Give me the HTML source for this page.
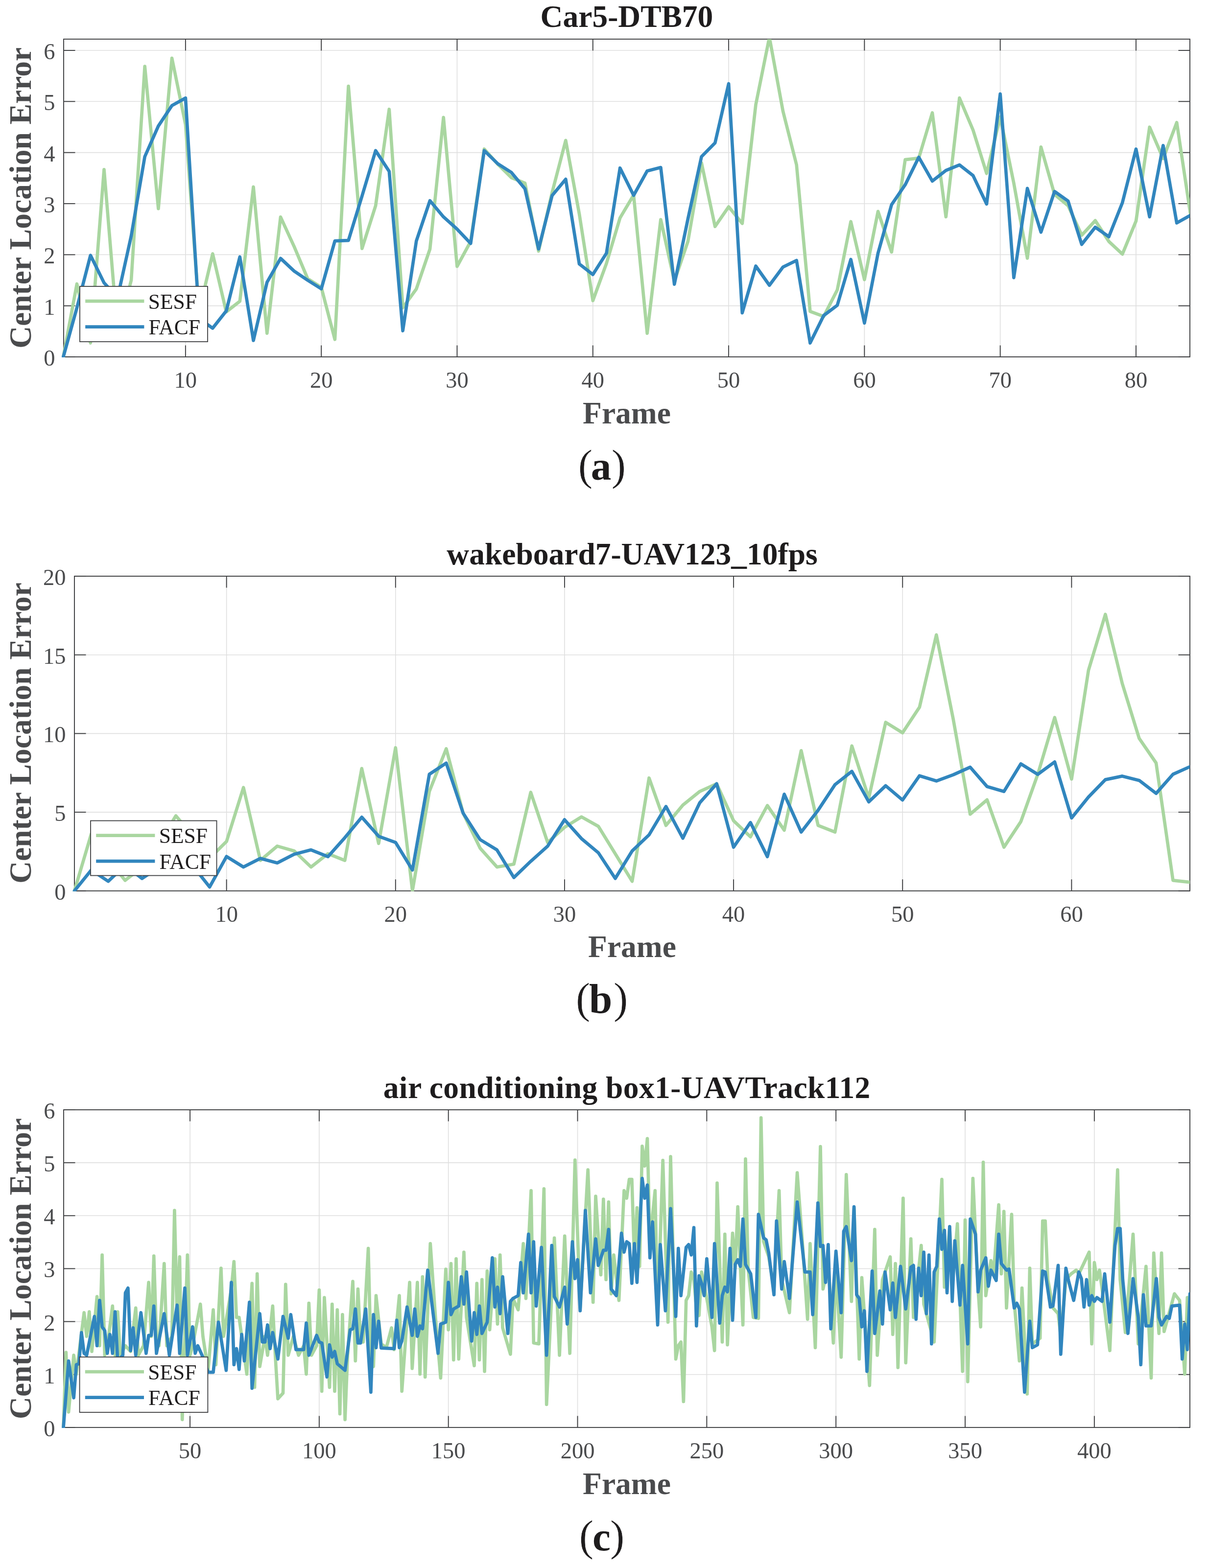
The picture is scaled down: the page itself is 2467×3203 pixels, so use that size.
<!DOCTYPE html>
<html><head><meta charset="utf-8"><title>Center Location Error plots</title>
<style>html,body{margin:0;padding:0;background:#fff;overflow:hidden;} svg{display:block;}</style></head>
<body><svg width="2467" height="3203" viewBox="0 0 2467 3203">
<rect width="2467" height="3203" fill="#fff"/>
<g><line x1="378.87" y1="79.9" x2="378.87" y2="729" stroke="#dfdfdf" stroke-width="1.6"/>
<line x1="656.17" y1="79.9" x2="656.17" y2="729" stroke="#dfdfdf" stroke-width="1.6"/>
<line x1="933.47" y1="79.9" x2="933.47" y2="729" stroke="#dfdfdf" stroke-width="1.6"/>
<line x1="1210.77" y1="79.9" x2="1210.77" y2="729" stroke="#dfdfdf" stroke-width="1.6"/>
<line x1="1488.08" y1="79.9" x2="1488.08" y2="729" stroke="#dfdfdf" stroke-width="1.6"/>
<line x1="1765.38" y1="79.9" x2="1765.38" y2="729" stroke="#dfdfdf" stroke-width="1.6"/>
<line x1="2042.68" y1="79.9" x2="2042.68" y2="729" stroke="#dfdfdf" stroke-width="1.6"/>
<line x1="2319.98" y1="79.9" x2="2319.98" y2="729" stroke="#dfdfdf" stroke-width="1.6"/>
<line x1="130" y1="624.66" x2="2430" y2="624.66" stroke="#dfdfdf" stroke-width="1.6"/>
<line x1="130" y1="520.32" x2="2430" y2="520.32" stroke="#dfdfdf" stroke-width="1.6"/>
<line x1="130" y1="415.98" x2="2430" y2="415.98" stroke="#dfdfdf" stroke-width="1.6"/>
<line x1="130" y1="311.64" x2="2430" y2="311.64" stroke="#dfdfdf" stroke-width="1.6"/>
<line x1="130" y1="207.30" x2="2430" y2="207.30" stroke="#dfdfdf" stroke-width="1.6"/>
<line x1="130" y1="102.96" x2="2430" y2="102.96" stroke="#dfdfdf" stroke-width="1.6"/>
<rect x="130" y="79.9" width="2300" height="649.1" fill="none" stroke="#3d3e40" stroke-width="1.9"/>
<line x1="378.87" y1="729" x2="378.87" y2="705.5" stroke="#3d3e40" stroke-width="1.9"/>
<line x1="378.87" y1="79.9" x2="378.87" y2="103.4" stroke="#3d3e40" stroke-width="1.9"/>
<line x1="656.17" y1="729" x2="656.17" y2="705.5" stroke="#3d3e40" stroke-width="1.9"/>
<line x1="656.17" y1="79.9" x2="656.17" y2="103.4" stroke="#3d3e40" stroke-width="1.9"/>
<line x1="933.47" y1="729" x2="933.47" y2="705.5" stroke="#3d3e40" stroke-width="1.9"/>
<line x1="933.47" y1="79.9" x2="933.47" y2="103.4" stroke="#3d3e40" stroke-width="1.9"/>
<line x1="1210.77" y1="729" x2="1210.77" y2="705.5" stroke="#3d3e40" stroke-width="1.9"/>
<line x1="1210.77" y1="79.9" x2="1210.77" y2="103.4" stroke="#3d3e40" stroke-width="1.9"/>
<line x1="1488.08" y1="729" x2="1488.08" y2="705.5" stroke="#3d3e40" stroke-width="1.9"/>
<line x1="1488.08" y1="79.9" x2="1488.08" y2="103.4" stroke="#3d3e40" stroke-width="1.9"/>
<line x1="1765.38" y1="729" x2="1765.38" y2="705.5" stroke="#3d3e40" stroke-width="1.9"/>
<line x1="1765.38" y1="79.9" x2="1765.38" y2="103.4" stroke="#3d3e40" stroke-width="1.9"/>
<line x1="2042.68" y1="729" x2="2042.68" y2="705.5" stroke="#3d3e40" stroke-width="1.9"/>
<line x1="2042.68" y1="79.9" x2="2042.68" y2="103.4" stroke="#3d3e40" stroke-width="1.9"/>
<line x1="2319.98" y1="729" x2="2319.98" y2="705.5" stroke="#3d3e40" stroke-width="1.9"/>
<line x1="2319.98" y1="79.9" x2="2319.98" y2="103.4" stroke="#3d3e40" stroke-width="1.9"/>
<line x1="130" y1="729.00" x2="153.5" y2="729.00" stroke="#3d3e40" stroke-width="1.9"/>
<line x1="2430" y1="729.00" x2="2406.5" y2="729.00" stroke="#3d3e40" stroke-width="1.9"/>
<line x1="130" y1="624.66" x2="153.5" y2="624.66" stroke="#3d3e40" stroke-width="1.9"/>
<line x1="2430" y1="624.66" x2="2406.5" y2="624.66" stroke="#3d3e40" stroke-width="1.9"/>
<line x1="130" y1="520.32" x2="153.5" y2="520.32" stroke="#3d3e40" stroke-width="1.9"/>
<line x1="2430" y1="520.32" x2="2406.5" y2="520.32" stroke="#3d3e40" stroke-width="1.9"/>
<line x1="130" y1="415.98" x2="153.5" y2="415.98" stroke="#3d3e40" stroke-width="1.9"/>
<line x1="2430" y1="415.98" x2="2406.5" y2="415.98" stroke="#3d3e40" stroke-width="1.9"/>
<line x1="130" y1="311.64" x2="153.5" y2="311.64" stroke="#3d3e40" stroke-width="1.9"/>
<line x1="2430" y1="311.64" x2="2406.5" y2="311.64" stroke="#3d3e40" stroke-width="1.9"/>
<line x1="130" y1="207.30" x2="153.5" y2="207.30" stroke="#3d3e40" stroke-width="1.9"/>
<line x1="2430" y1="207.30" x2="2406.5" y2="207.30" stroke="#3d3e40" stroke-width="1.9"/>
<line x1="130" y1="102.96" x2="153.5" y2="102.96" stroke="#3d3e40" stroke-width="1.9"/>
<line x1="2430" y1="102.96" x2="2406.5" y2="102.96" stroke="#3d3e40" stroke-width="1.9"/>
<clipPath id="clip0"><rect x="126" y="79.9" width="2304" height="650.1"/></clipPath>
<polyline clip-path="url(#clip0)" points="129.3,729.0 157.0,580.0 184.8,700.6 212.5,346.3 240.2,680.8 268.0,572.5 295.7,135.5 323.4,426.2 351.1,118.8 378.9,254.3 406.6,635.9 434.3,518.4 462.1,637.0 489.8,615.3 517.5,381.8 545.3,680.8 573.0,443.3 600.7,503.6 628.4,569.4 656.2,587.1 683.9,693.3 711.6,176.2 739.4,507.6 767.1,420.2 794.8,223.2 822.6,628.6 850.3,590.2 878.0,508.8 905.7,239.9 933.5,544.1 961.2,493.2 988.9,304.5 1016.7,335.6 1044.4,362.8 1072.1,374.2 1099.9,512.8 1127.6,393.0 1155.3,286.8 1183.0,436.8 1210.8,614.0 1238.5,538.1 1266.2,445.2 1294.0,398.5 1321.7,680.8 1349.4,448.5 1377.2,574.4 1404.9,493.2 1432.6,332.7 1460.3,462.7 1488.1,422.4 1515.8,456.5 1543.5,213.6 1571.3,76.0 1599.0,227.1 1626.7,336.7 1654.5,636.1 1682.2,646.4 1709.9,592.3 1737.6,452.7 1765.4,571.2 1793.1,431.8 1820.8,514.9 1848.6,326.2 1876.3,323.1 1904.0,230.5 1931.8,442.9 1959.5,200.2 1987.2,265.7 2014.9,354.2 2042.7,238.8 2070.4,374.2 2098.1,527.4 2125.9,300.4 2153.6,397.2 2181.3,420.2 2209.1,480.5 2236.8,450.6 2264.5,493.2 2292.2,519.1 2320.0,451.5 2347.7,259.7 2375.4,324.0 2403.2,250.3 2430.9,435.8" fill="none" stroke="#a9d6a0" stroke-width="6.7" stroke-linejoin="round" stroke-linecap="round"/>
<polyline clip-path="url(#clip0)" points="129.3,729.0 157.0,628.8 184.8,521.6 212.5,577.7 240.2,607.8 268.0,481.7 295.7,320.0 323.4,257.4 351.1,215.6 378.9,200.2 406.6,650.7 434.3,670.4 462.1,635.1 489.8,524.7 517.5,695.4 545.3,576.7 573.0,527.8 600.7,553.7 628.4,572.5 656.2,590.0 683.9,492.1 711.6,491.1 739.4,400.3 767.1,307.7 794.8,350.2 822.6,675.6 850.3,492.1 878.0,409.9 905.7,443.1 933.5,468.1 961.2,497.2 988.9,307.7 1016.7,334.6 1044.4,352.3 1072.1,385.7 1099.9,508.6 1127.6,399.3 1155.3,366.1 1183.0,539.1 1210.8,560.8 1238.5,517.2 1266.2,343.2 1294.0,399.1 1321.7,349.2 1349.4,342.1 1377.2,580.6 1404.9,447.3 1432.6,320.0 1460.3,291.8 1488.1,171.0 1515.8,639.1 1543.5,543.5 1571.3,582.7 1599.0,545.4 1626.7,532.0 1654.5,700.6 1682.2,644.5 1709.9,623.6 1737.6,529.9 1765.4,659.9 1793.1,517.2 1820.8,418.1 1848.6,377.4 1876.3,321.2 1904.0,369.9 1931.8,348.2 1959.5,336.9 1987.2,358.6 2014.9,416.8 2042.7,191.9 2070.4,567.1 2098.1,384.9 2125.9,474.2 2153.6,391.1 2181.3,410.8 2209.1,499.2 2236.8,464.2 2264.5,483.6 2292.2,413.9 2320.0,304.5 2347.7,442.9 2375.4,297.2 2403.2,455.4 2430.9,440.0" fill="none" stroke="#3186be" stroke-width="6.7" stroke-linejoin="round" stroke-linecap="round"/>
<text x="378.87" y="791.7" text-anchor="middle" font-family="Liberation Serif" font-size="46.5" fill="#4a4b4d">10</text>
<text x="656.17" y="791.7" text-anchor="middle" font-family="Liberation Serif" font-size="46.5" fill="#4a4b4d">20</text>
<text x="933.47" y="791.7" text-anchor="middle" font-family="Liberation Serif" font-size="46.5" fill="#4a4b4d">30</text>
<text x="1210.77" y="791.7" text-anchor="middle" font-family="Liberation Serif" font-size="46.5" fill="#4a4b4d">40</text>
<text x="1488.08" y="791.7" text-anchor="middle" font-family="Liberation Serif" font-size="46.5" fill="#4a4b4d">50</text>
<text x="1765.38" y="791.7" text-anchor="middle" font-family="Liberation Serif" font-size="46.5" fill="#4a4b4d">60</text>
<text x="2042.68" y="791.7" text-anchor="middle" font-family="Liberation Serif" font-size="46.5" fill="#4a4b4d">70</text>
<text x="2319.98" y="791.7" text-anchor="middle" font-family="Liberation Serif" font-size="46.5" fill="#4a4b4d">80</text>
<text x="112.6" y="747.0" text-anchor="end" font-family="Liberation Serif" font-size="46.5" fill="#4a4b4d">0</text>
<text x="112.6" y="642.7" text-anchor="end" font-family="Liberation Serif" font-size="46.5" fill="#4a4b4d">1</text>
<text x="112.6" y="538.3" text-anchor="end" font-family="Liberation Serif" font-size="46.5" fill="#4a4b4d">2</text>
<text x="112.6" y="434.0" text-anchor="end" font-family="Liberation Serif" font-size="46.5" fill="#4a4b4d">3</text>
<text x="112.6" y="329.6" text-anchor="end" font-family="Liberation Serif" font-size="46.5" fill="#4a4b4d">4</text>
<text x="112.6" y="225.3" text-anchor="end" font-family="Liberation Serif" font-size="46.5" fill="#4a4b4d">5</text>
<text x="112.6" y="121.0" text-anchor="end" font-family="Liberation Serif" font-size="46.5" fill="#4a4b4d">6</text>
<text x="1280.0" y="864.6" text-anchor="middle" font-family="Liberation Serif" font-weight="bold" font-size="63.5" fill="#4a4b4d">Frame</text>
<text transform="translate(62.5,404.3) rotate(-90)" x="0" y="0" text-anchor="middle" font-family="Liberation Serif" font-weight="bold" font-size="63.5" fill="#4a4b4d">Center Location Error</text>
<text x="1280.0" y="55.4" text-anchor="middle" font-family="Liberation Serif" font-weight="bold" font-size="63.5" fill="#1e1c1d">Car5-DTB70</text>
<rect x="163" y="585" width="261" height="113" fill="#fff" stroke="#3d3e40" stroke-width="1.8"/>
<line x1="174.2" y1="615.1" x2="294.4" y2="615.1" stroke="#a9d6a0" stroke-width="6.7"/>
<line x1="174.2" y1="667.7" x2="294.4" y2="667.7" stroke="#3186be" stroke-width="6.7"/>
<text x="302.7" y="630.6" font-family="Liberation Serif" font-size="43.5" fill="#1e1c1d">SESF</text>
<text x="303.4" y="683.2" font-family="Liberation Serif" font-size="43.5" fill="#1e1c1d">FACF</text>
<text y="979.8" font-family="Liberation Serif" font-size="88" fill="#1e1c1d" stroke="#fff" stroke-width="0.5"><tspan x="1180.8">(</tspan><tspan x="1206.7" font-weight="bold" font-size="83" stroke="none">a</tspan><tspan x="1248.8">)</tspan></text></g>
<g><line x1="462.64" y1="1177" x2="462.64" y2="1819.8" stroke="#dfdfdf" stroke-width="1.6"/>
<line x1="807.79" y1="1177" x2="807.79" y2="1819.8" stroke="#dfdfdf" stroke-width="1.6"/>
<line x1="1152.94" y1="1177" x2="1152.94" y2="1819.8" stroke="#dfdfdf" stroke-width="1.6"/>
<line x1="1498.09" y1="1177" x2="1498.09" y2="1819.8" stroke="#dfdfdf" stroke-width="1.6"/>
<line x1="1843.24" y1="1177" x2="1843.24" y2="1819.8" stroke="#dfdfdf" stroke-width="1.6"/>
<line x1="2188.39" y1="1177" x2="2188.39" y2="1819.8" stroke="#dfdfdf" stroke-width="1.6"/>
<line x1="152" y1="1659.10" x2="2430" y2="1659.10" stroke="#dfdfdf" stroke-width="1.6"/>
<line x1="152" y1="1498.40" x2="2430" y2="1498.40" stroke="#dfdfdf" stroke-width="1.6"/>
<line x1="152" y1="1337.70" x2="2430" y2="1337.70" stroke="#dfdfdf" stroke-width="1.6"/>
<rect x="152" y="1177" width="2278" height="642.8" fill="none" stroke="#3d3e40" stroke-width="1.9"/>
<line x1="462.64" y1="1819.8" x2="462.64" y2="1796.3" stroke="#3d3e40" stroke-width="1.9"/>
<line x1="462.64" y1="1177" x2="462.64" y2="1200.5" stroke="#3d3e40" stroke-width="1.9"/>
<line x1="807.79" y1="1819.8" x2="807.79" y2="1796.3" stroke="#3d3e40" stroke-width="1.9"/>
<line x1="807.79" y1="1177" x2="807.79" y2="1200.5" stroke="#3d3e40" stroke-width="1.9"/>
<line x1="1152.94" y1="1819.8" x2="1152.94" y2="1796.3" stroke="#3d3e40" stroke-width="1.9"/>
<line x1="1152.94" y1="1177" x2="1152.94" y2="1200.5" stroke="#3d3e40" stroke-width="1.9"/>
<line x1="1498.09" y1="1819.8" x2="1498.09" y2="1796.3" stroke="#3d3e40" stroke-width="1.9"/>
<line x1="1498.09" y1="1177" x2="1498.09" y2="1200.5" stroke="#3d3e40" stroke-width="1.9"/>
<line x1="1843.24" y1="1819.8" x2="1843.24" y2="1796.3" stroke="#3d3e40" stroke-width="1.9"/>
<line x1="1843.24" y1="1177" x2="1843.24" y2="1200.5" stroke="#3d3e40" stroke-width="1.9"/>
<line x1="2188.39" y1="1819.8" x2="2188.39" y2="1796.3" stroke="#3d3e40" stroke-width="1.9"/>
<line x1="2188.39" y1="1177" x2="2188.39" y2="1200.5" stroke="#3d3e40" stroke-width="1.9"/>
<line x1="152" y1="1819.80" x2="175.5" y2="1819.80" stroke="#3d3e40" stroke-width="1.9"/>
<line x1="2430" y1="1819.80" x2="2406.5" y2="1819.80" stroke="#3d3e40" stroke-width="1.9"/>
<line x1="152" y1="1659.10" x2="175.5" y2="1659.10" stroke="#3d3e40" stroke-width="1.9"/>
<line x1="2430" y1="1659.10" x2="2406.5" y2="1659.10" stroke="#3d3e40" stroke-width="1.9"/>
<line x1="152" y1="1498.40" x2="175.5" y2="1498.40" stroke="#3d3e40" stroke-width="1.9"/>
<line x1="2430" y1="1498.40" x2="2406.5" y2="1498.40" stroke="#3d3e40" stroke-width="1.9"/>
<line x1="152" y1="1337.70" x2="175.5" y2="1337.70" stroke="#3d3e40" stroke-width="1.9"/>
<line x1="2430" y1="1337.70" x2="2406.5" y2="1337.70" stroke="#3d3e40" stroke-width="1.9"/>
<line x1="152" y1="1177.00" x2="175.5" y2="1177.00" stroke="#3d3e40" stroke-width="1.9"/>
<line x1="2430" y1="1177.00" x2="2406.5" y2="1177.00" stroke="#3d3e40" stroke-width="1.9"/>
<clipPath id="clip1"><rect x="148" y="1177" width="2282" height="643.8"/></clipPath>
<polyline clip-path="url(#clip1)" points="152.0,1819.8 186.5,1703.3 221.0,1755.5 255.5,1798.4 290.1,1771.6 324.6,1723.4 359.1,1666.4 393.6,1707.3 428.1,1753.1 462.6,1718.9 497.2,1608.8 531.7,1757.6 566.2,1728.4 600.7,1738.2 635.2,1771.1 669.7,1743.8 704.2,1757.6 738.8,1569.9 773.3,1722.9 807.8,1527.5 842.3,1819.8 876.8,1616.7 911.3,1529.4 945.8,1661.0 980.4,1732.4 1014.9,1771.1 1049.4,1765.2 1083.9,1618.5 1118.4,1720.9 1152.9,1690.0 1187.5,1668.6 1222.0,1688.0 1256.5,1743.9 1291.0,1800.3 1325.5,1589.2 1360.0,1686.2 1394.5,1644.6 1429.1,1616.7 1463.6,1601.1 1498.1,1676.5 1532.6,1709.4 1567.1,1645.5 1601.6,1695.9 1636.2,1533.3 1670.7,1686.1 1705.2,1699.7 1739.7,1523.7 1774.2,1630.3 1808.7,1475.5 1843.2,1496.9 1877.8,1444.7 1912.3,1296.8 1946.8,1469.5 1981.3,1663.1 2015.8,1633.9 2050.3,1730.6 2084.8,1678.4 2119.4,1581.6 2153.9,1465.8 2188.4,1591.4 2222.9,1369.2 2257.4,1255.0 2291.9,1396.2 2326.5,1508.4 2361.0,1558.5 2395.5,1798.3 2430.0,1802.1" fill="none" stroke="#a9d6a0" stroke-width="6.7" stroke-linejoin="round" stroke-linecap="round"/>
<polyline clip-path="url(#clip1)" points="152.0,1819.8 186.5,1777.2 221.0,1800.3 255.5,1767.6 290.1,1794.5 324.6,1771.6 359.1,1768.4 393.6,1768.4 428.1,1811.9 462.6,1749.6 497.2,1771.1 531.7,1753.5 566.2,1762.7 600.7,1744.9 635.2,1736.1 669.7,1749.9 704.2,1711.2 738.8,1669.3 773.3,1708.3 807.8,1720.8 842.3,1777.2 876.8,1581.6 911.3,1558.7 945.8,1661.0 980.4,1715.0 1014.9,1736.2 1049.4,1792.6 1083.9,1759.4 1118.4,1728.5 1152.9,1674.4 1187.5,1713.1 1222.0,1742.0 1256.5,1794.5 1291.0,1738.2 1325.5,1705.4 1360.0,1647.4 1394.5,1712.3 1429.1,1639.8 1463.6,1601.1 1498.1,1730.6 1532.6,1680.2 1567.1,1749.9 1601.6,1622.3 1636.2,1699.7 1670.7,1655.2 1705.2,1602.9 1739.7,1575.7 1774.2,1638.0 1808.7,1605.0 1843.2,1634.2 1877.8,1584.7 1912.3,1595.3 1946.8,1582.6 1981.3,1567.1 2015.8,1606.7 2050.3,1616.8 2084.8,1560.3 2119.4,1581.8 2153.9,1556.4 2188.4,1670.8 2222.9,1628.2 2257.4,1592.6 2291.9,1585.4 2326.5,1594.2 2361.0,1620.7 2395.5,1581.6 2430.0,1566.2" fill="none" stroke="#3186be" stroke-width="6.7" stroke-linejoin="round" stroke-linecap="round"/>
<text x="462.64" y="1882.5" text-anchor="middle" font-family="Liberation Serif" font-size="46.5" fill="#4a4b4d">10</text>
<text x="807.79" y="1882.5" text-anchor="middle" font-family="Liberation Serif" font-size="46.5" fill="#4a4b4d">20</text>
<text x="1152.94" y="1882.5" text-anchor="middle" font-family="Liberation Serif" font-size="46.5" fill="#4a4b4d">30</text>
<text x="1498.09" y="1882.5" text-anchor="middle" font-family="Liberation Serif" font-size="46.5" fill="#4a4b4d">40</text>
<text x="1843.24" y="1882.5" text-anchor="middle" font-family="Liberation Serif" font-size="46.5" fill="#4a4b4d">50</text>
<text x="2188.39" y="1882.5" text-anchor="middle" font-family="Liberation Serif" font-size="46.5" fill="#4a4b4d">60</text>
<text x="134.6" y="1837.8" text-anchor="end" font-family="Liberation Serif" font-size="46.5" fill="#4a4b4d">0</text>
<text x="134.6" y="1677.1" text-anchor="end" font-family="Liberation Serif" font-size="46.5" fill="#4a4b4d">5</text>
<text x="134.6" y="1516.4" text-anchor="end" font-family="Liberation Serif" font-size="46.5" fill="#4a4b4d">10</text>
<text x="134.6" y="1355.7" text-anchor="end" font-family="Liberation Serif" font-size="46.5" fill="#4a4b4d">15</text>
<text x="134.6" y="1195.0" text-anchor="end" font-family="Liberation Serif" font-size="46.5" fill="#4a4b4d">20</text>
<text x="1291.0" y="1955.4" text-anchor="middle" font-family="Liberation Serif" font-weight="bold" font-size="63.5" fill="#4a4b4d">Frame</text>
<text transform="translate(62.5,1497.4) rotate(-90)" x="0" y="0" text-anchor="middle" font-family="Liberation Serif" font-weight="bold" font-size="63.5" fill="#4a4b4d">Center Location Error</text>
<text x="1291.0" y="1152.5" text-anchor="middle" font-family="Liberation Serif" font-weight="bold" font-size="63.5" fill="#1e1c1d">wakeboard7-UAV123_10fps</text>
<rect x="185" y="1676.5" width="257.5" height="112.0" fill="#fff" stroke="#3d3e40" stroke-width="1.8"/>
<line x1="196.2" y1="1706.6" x2="316.4" y2="1706.6" stroke="#a9d6a0" stroke-width="6.7"/>
<line x1="196.2" y1="1759.2" x2="316.4" y2="1759.2" stroke="#3186be" stroke-width="6.7"/>
<text x="324.7" y="1722.1" font-family="Liberation Serif" font-size="43.5" fill="#1e1c1d">SESF</text>
<text x="325.4" y="1774.7" font-family="Liberation Serif" font-size="43.5" fill="#1e1c1d">FACF</text>
<text y="2069.0" font-family="Liberation Serif" font-size="88" fill="#1e1c1d" stroke="#fff" stroke-width="0.5"><tspan x="1176.0">(</tspan><tspan x="1202.9" font-weight="bold" font-size="85" stroke="none">b</tspan><tspan x="1253.0">)</tspan></text></g>
<g><line x1="388.05" y1="2267" x2="388.05" y2="2915.9" stroke="#dfdfdf" stroke-width="1.6"/>
<line x1="651.88" y1="2267" x2="651.88" y2="2915.9" stroke="#dfdfdf" stroke-width="1.6"/>
<line x1="915.71" y1="2267" x2="915.71" y2="2915.9" stroke="#dfdfdf" stroke-width="1.6"/>
<line x1="1179.54" y1="2267" x2="1179.54" y2="2915.9" stroke="#dfdfdf" stroke-width="1.6"/>
<line x1="1443.37" y1="2267" x2="1443.37" y2="2915.9" stroke="#dfdfdf" stroke-width="1.6"/>
<line x1="1707.21" y1="2267" x2="1707.21" y2="2915.9" stroke="#dfdfdf" stroke-width="1.6"/>
<line x1="1971.04" y1="2267" x2="1971.04" y2="2915.9" stroke="#dfdfdf" stroke-width="1.6"/>
<line x1="2234.87" y1="2267" x2="2234.87" y2="2915.9" stroke="#dfdfdf" stroke-width="1.6"/>
<line x1="130" y1="2807.75" x2="2430" y2="2807.75" stroke="#dfdfdf" stroke-width="1.6"/>
<line x1="130" y1="2699.60" x2="2430" y2="2699.60" stroke="#dfdfdf" stroke-width="1.6"/>
<line x1="130" y1="2591.45" x2="2430" y2="2591.45" stroke="#dfdfdf" stroke-width="1.6"/>
<line x1="130" y1="2483.30" x2="2430" y2="2483.30" stroke="#dfdfdf" stroke-width="1.6"/>
<line x1="130" y1="2375.15" x2="2430" y2="2375.15" stroke="#dfdfdf" stroke-width="1.6"/>
<rect x="130" y="2267" width="2300" height="648.9000000000001" fill="none" stroke="#3d3e40" stroke-width="1.9"/>
<line x1="388.05" y1="2915.9" x2="388.05" y2="2892.4" stroke="#3d3e40" stroke-width="1.9"/>
<line x1="388.05" y1="2267" x2="388.05" y2="2290.5" stroke="#3d3e40" stroke-width="1.9"/>
<line x1="651.88" y1="2915.9" x2="651.88" y2="2892.4" stroke="#3d3e40" stroke-width="1.9"/>
<line x1="651.88" y1="2267" x2="651.88" y2="2290.5" stroke="#3d3e40" stroke-width="1.9"/>
<line x1="915.71" y1="2915.9" x2="915.71" y2="2892.4" stroke="#3d3e40" stroke-width="1.9"/>
<line x1="915.71" y1="2267" x2="915.71" y2="2290.5" stroke="#3d3e40" stroke-width="1.9"/>
<line x1="1179.54" y1="2915.9" x2="1179.54" y2="2892.4" stroke="#3d3e40" stroke-width="1.9"/>
<line x1="1179.54" y1="2267" x2="1179.54" y2="2290.5" stroke="#3d3e40" stroke-width="1.9"/>
<line x1="1443.37" y1="2915.9" x2="1443.37" y2="2892.4" stroke="#3d3e40" stroke-width="1.9"/>
<line x1="1443.37" y1="2267" x2="1443.37" y2="2290.5" stroke="#3d3e40" stroke-width="1.9"/>
<line x1="1707.21" y1="2915.9" x2="1707.21" y2="2892.4" stroke="#3d3e40" stroke-width="1.9"/>
<line x1="1707.21" y1="2267" x2="1707.21" y2="2290.5" stroke="#3d3e40" stroke-width="1.9"/>
<line x1="1971.04" y1="2915.9" x2="1971.04" y2="2892.4" stroke="#3d3e40" stroke-width="1.9"/>
<line x1="1971.04" y1="2267" x2="1971.04" y2="2290.5" stroke="#3d3e40" stroke-width="1.9"/>
<line x1="2234.87" y1="2915.9" x2="2234.87" y2="2892.4" stroke="#3d3e40" stroke-width="1.9"/>
<line x1="2234.87" y1="2267" x2="2234.87" y2="2290.5" stroke="#3d3e40" stroke-width="1.9"/>
<line x1="130" y1="2915.90" x2="153.5" y2="2915.90" stroke="#3d3e40" stroke-width="1.9"/>
<line x1="2430" y1="2915.90" x2="2406.5" y2="2915.90" stroke="#3d3e40" stroke-width="1.9"/>
<line x1="130" y1="2807.75" x2="153.5" y2="2807.75" stroke="#3d3e40" stroke-width="1.9"/>
<line x1="2430" y1="2807.75" x2="2406.5" y2="2807.75" stroke="#3d3e40" stroke-width="1.9"/>
<line x1="130" y1="2699.60" x2="153.5" y2="2699.60" stroke="#3d3e40" stroke-width="1.9"/>
<line x1="2430" y1="2699.60" x2="2406.5" y2="2699.60" stroke="#3d3e40" stroke-width="1.9"/>
<line x1="130" y1="2591.45" x2="153.5" y2="2591.45" stroke="#3d3e40" stroke-width="1.9"/>
<line x1="2430" y1="2591.45" x2="2406.5" y2="2591.45" stroke="#3d3e40" stroke-width="1.9"/>
<line x1="130" y1="2483.30" x2="153.5" y2="2483.30" stroke="#3d3e40" stroke-width="1.9"/>
<line x1="2430" y1="2483.30" x2="2406.5" y2="2483.30" stroke="#3d3e40" stroke-width="1.9"/>
<line x1="130" y1="2375.15" x2="153.5" y2="2375.15" stroke="#3d3e40" stroke-width="1.9"/>
<line x1="2430" y1="2375.15" x2="2406.5" y2="2375.15" stroke="#3d3e40" stroke-width="1.9"/>
<line x1="130" y1="2267.00" x2="153.5" y2="2267.00" stroke="#3d3e40" stroke-width="1.9"/>
<line x1="2430" y1="2267.00" x2="2406.5" y2="2267.00" stroke="#3d3e40" stroke-width="1.9"/>
<clipPath id="clip2"><rect x="126" y="2267" width="2304" height="649.9000000000001"/></clipPath>
<polyline clip-path="url(#clip2)" points="129.5,2915.9 134.8,2762.5 140.1,2884.3 150.6,2768.4 155.9,2807.0 171.7,2681.4 177.0,2729.8 182.3,2679.5 187.5,2760.6 198.1,2648.6 203.4,2749.0 208.6,2563.5 213.9,2768.4 219.2,2749.0 229.8,2667.9 235.0,2768.4 240.3,2679.5 245.6,2768.4 256.1,2749.0 266.7,2760.6 277.2,2671.8 282.5,2768.4 293.1,2749.0 303.6,2619.6 308.9,2729.8 314.2,2565.5 319.5,2729.8 324.7,2749.0 335.3,2581.0 340.6,2749.0 351.1,2729.8 356.4,2472.7 361.7,2691.1 366.9,2567.4 372.2,2899.8 382.8,2563.5 388.1,2768.4 393.3,2749.0 409.2,2664.0 414.4,2729.8 425.0,2799.3 435.5,2675.6 440.8,2787.7 451.4,2590.6 456.6,2729.8 472.5,2633.1 477.8,2577.1 483.0,2691.1 488.3,2691.1 504.1,2807.0 514.7,2621.5 520.0,2834.0 525.2,2602.2 530.5,2791.5 541.1,2729.8 546.4,2768.4 556.9,2667.9 562.2,2768.4 567.5,2857.3 578.0,2845.7 583.3,2623.5 588.6,2768.4 599.1,2729.8 609.7,2768.4 620.2,2749.0 625.5,2807.0 630.8,2662.1 636.1,2768.4 646.6,2749.0 651.9,2635.0 657.2,2841.8 662.4,2650.5 673.0,2834.0 678.3,2664.0 683.5,2841.8 688.8,2675.6 694.1,2888.2 699.4,2685.3 704.6,2899.8 709.9,2768.4 720.5,2617.6 725.8,2780.0 731.0,2633.1 736.3,2741.3 741.6,2741.3 752.1,2550.0 757.4,2768.4 762.7,2791.5 768.0,2646.6 778.5,2745.2 789.1,2752.9 799.6,2712.4 804.9,2756.8 815.5,2646.6 820.7,2841.8 836.6,2619.6 841.8,2795.4 852.4,2619.6 857.7,2807.0 862.9,2608.0 868.2,2812.8 878.8,2540.4 889.3,2691.1 899.9,2814.8 910.4,2592.5 915.7,2716.3 921.0,2581.0 926.3,2778.0 931.5,2571.3 936.8,2776.1 947.4,2557.8 952.7,2691.1 968.5,2789.6 973.8,2621.5 979.0,2778.0 984.3,2613.8 989.6,2801.3 994.9,2596.4 1000.1,2716.3 1010.7,2571.3 1016.0,2704.6 1021.2,2563.5 1026.5,2712.4 1042.4,2766.4 1047.6,2652.4 1058.2,2675.6 1068.7,2540.4 1074.0,2652.4 1084.6,2432.1 1089.8,2743.3 1100.4,2745.2 1110.9,2428.4 1116.2,2868.9 1132.1,2528.8 1142.6,2768.4 1153.2,2524.9 1163.7,2764.5 1174.3,2369.5 1184.8,2671.8 1200.7,2389.6 1211.2,2660.1 1216.5,2443.7 1227.0,2604.1 1232.3,2449.6 1237.6,2613.8 1242.9,2455.4 1248.1,2642.8 1253.4,2563.5 1264.0,2656.3 1274.5,2432.1 1279.8,2447.6 1285.1,2409.0 1290.4,2409.0 1295.6,2575.1 1300.9,2467.0 1306.2,2586.8 1311.5,2341.4 1316.7,2382.0 1322.0,2325.9 1327.3,2536.5 1337.8,2432.1 1343.1,2691.1 1353.7,2370.4 1364.2,2700.8 1369.5,2362.6 1380.1,2776.1 1385.3,2749.0 1390.6,2741.3 1395.9,2863.0 1401.2,2656.3 1406.4,2646.6 1411.7,2598.4 1417.0,2613.8 1422.3,2671.8 1427.5,2687.3 1432.8,2598.4 1443.4,2652.4 1453.9,2710.4 1459.2,2758.8 1464.5,2416.7 1475.0,2741.3 1480.3,2521.0 1485.6,2747.1 1496.1,2519.1 1501.4,2590.6 1506.7,2465.0 1517.2,2706.5 1522.5,2367.3 1527.8,2590.6 1538.4,2691.1 1548.9,2693.0 1554.2,2283.4 1559.5,2536.5 1570.0,2567.4 1580.6,2633.1 1591.1,2432.1 1596.4,2613.8 1612.2,2681.4 1628.1,2395.5 1638.6,2536.5 1649.2,2694.9 1654.4,2540.4 1665.0,2752.9 1675.5,2342.2 1680.8,2633.1 1691.4,2582.9 1701.9,2743.3 1707.2,2590.6 1717.8,2772.3 1728.3,2399.4 1738.9,2658.3 1744.1,2467.0 1754.7,2776.1 1760.0,2609.9 1775.8,2830.2 1786.4,2511.4 1791.6,2768.4 1802.2,2613.8 1818.0,2567.4 1823.3,2725.9 1828.6,2581.0 1833.8,2793.5 1844.4,2447.6 1849.7,2783.8 1860.2,2530.7 1865.5,2691.1 1881.3,2544.2 1886.6,2664.0 1907.7,2741.3 1923.5,2409.0 1928.8,2629.3 1939.4,2507.5 1944.7,2629.3 1955.2,2499.8 1965.8,2801.3 1971.0,2492.1 1976.3,2822.5 1986.9,2407.1 1997.4,2633.1 2002.7,2710.4 2008.0,2374.2 2013.2,2646.6 2023.8,2575.1 2029.1,2602.2 2039.6,2461.1 2044.9,2602.2 2050.2,2474.6 2055.5,2671.8 2066.0,2480.5 2071.3,2660.1 2081.8,2780.0 2087.1,2631.1 2097.7,2847.5 2103.0,2590.6 2108.2,2745.2 2124.1,2733.6 2129.3,2494.0 2134.6,2494.0 2139.9,2613.8 2150.4,2671.8 2161.0,2683.4 2166.3,2729.8 2176.8,2613.8 2187.4,2602.2 2197.9,2594.5 2203.2,2602.2 2224.3,2557.8 2229.6,2745.2 2234.9,2579.0 2240.1,2613.8 2245.4,2594.5 2250.7,2633.1 2266.5,2758.8 2282.4,2389.6 2287.6,2613.8 2298.2,2722.0 2314.0,2521.0 2324.6,2745.2 2340.4,2586.8 2351.0,2814.8 2356.2,2559.7 2366.8,2723.9 2372.1,2559.7 2377.3,2720.0 2398.4,2642.8 2409.0,2656.3 2419.5,2807.0 2424.8,2650.5 2430.1,2652.4" fill="none" stroke="#a9d6a0" stroke-width="6.7" stroke-linejoin="round" stroke-linecap="round"/>
<polyline clip-path="url(#clip2)" points="129.5,2915.9 140.1,2780.0 150.6,2855.3 155.9,2787.7 161.2,2785.8 166.4,2722.0 171.7,2764.5 177.0,2768.4 192.8,2689.1 198.1,2749.0 203.4,2656.3 208.6,2710.4 213.9,2718.1 219.2,2764.5 224.5,2725.9 229.8,2764.5 235.0,2679.5 240.3,2780.0 250.9,2768.4 256.1,2640.9 261.4,2631.1 266.7,2758.8 272.0,2712.4 277.2,2768.4 287.8,2681.4 298.4,2764.5 303.6,2727.8 308.9,2727.8 314.2,2667.9 319.5,2764.5 335.3,2683.4 345.8,2768.4 361.7,2666.0 366.9,2764.5 377.5,2631.1 382.8,2768.4 393.3,2710.4 398.6,2764.5 403.9,2749.0 414.4,2772.3 425.0,2803.2 435.5,2803.2 446.1,2700.8 461.9,2799.3 472.5,2619.6 477.8,2787.7 483.0,2754.9 488.3,2797.4 493.6,2725.9 498.9,2780.0 509.4,2660.1 514.7,2836.0 530.5,2683.4 535.8,2741.3 541.1,2741.3 546.4,2706.5 551.6,2754.9 556.9,2722.0 567.5,2776.1 578.0,2689.1 588.6,2733.6 593.8,2685.3 604.4,2756.8 620.2,2756.8 625.5,2702.7 630.8,2768.4 646.6,2727.8 651.9,2741.3 657.2,2743.3 667.7,2812.8 673.0,2747.1 678.3,2772.3 683.5,2760.6 688.8,2785.8 704.6,2799.3 715.2,2716.3 720.5,2714.3 725.8,2673.8 731.0,2743.3 736.3,2743.3 746.9,2673.8 752.1,2760.6 757.4,2843.8 762.7,2685.3 768.0,2752.9 773.2,2698.8 778.5,2753.7 804.9,2754.9 810.2,2696.9 815.5,2752.9 820.7,2739.4 831.3,2669.9 841.8,2727.8 847.1,2673.8 852.4,2729.8 857.7,2708.5 862.9,2714.3 873.5,2594.5 894.6,2764.5 899.9,2704.6 910.4,2700.8 915.7,2619.6 921.0,2685.3 926.3,2673.8 936.8,2667.9 942.1,2608.0 947.4,2664.0 952.7,2598.4 963.2,2739.4 968.5,2681.4 973.8,2725.9 979.0,2667.9 984.3,2723.9 994.9,2700.8 1005.4,2569.4 1010.7,2669.9 1016.0,2629.3 1021.2,2683.4 1026.5,2608.0 1037.1,2723.9 1042.4,2658.3 1047.6,2652.4 1058.2,2646.6 1063.5,2579.0 1068.7,2640.9 1079.3,2521.0 1084.6,2640.9 1089.8,2536.5 1095.1,2667.9 1105.7,2548.1 1116.2,2768.4 1126.8,2544.2 1132.1,2648.6 1142.6,2669.9 1153.2,2629.3 1158.4,2704.6 1169.0,2536.5 1174.3,2611.9 1179.5,2573.2 1184.8,2677.5 1195.4,2472.7 1205.9,2640.9 1216.5,2530.7 1221.8,2584.9 1232.3,2553.9 1237.6,2553.9 1242.9,2511.4 1248.1,2633.1 1258.7,2646.6 1269.2,2519.1 1274.5,2557.8 1279.8,2536.5 1285.1,2540.4 1290.4,2621.5 1295.6,2540.4 1300.9,2619.6 1311.5,2407.1 1316.7,2447.6 1322.0,2420.6 1327.3,2569.4 1332.6,2496.0 1343.1,2706.5 1348.4,2542.3 1358.9,2677.5 1369.5,2468.9 1380.1,2689.1 1385.3,2550.0 1390.6,2646.6 1401.2,2548.1 1406.4,2542.3 1411.7,2563.5 1417.0,2507.5 1422.3,2708.5 1427.5,2606.1 1432.8,2621.5 1438.1,2646.6 1443.4,2571.3 1453.9,2691.1 1459.2,2540.4 1469.8,2702.7 1475.0,2646.6 1480.3,2629.3 1485.6,2638.9 1490.9,2550.0 1496.1,2696.9 1501.4,2582.9 1506.7,2573.2 1512.0,2586.8 1517.2,2490.1 1522.5,2582.9 1533.1,2602.2 1543.6,2691.1 1548.9,2480.5 1559.5,2528.8 1564.7,2532.6 1570.0,2559.7 1580.6,2644.8 1585.8,2494.0 1596.4,2633.1 1601.7,2577.1 1612.2,2652.4 1628.1,2455.4 1643.9,2598.4 1654.4,2598.4 1659.7,2685.3 1670.3,2457.3 1675.5,2546.1 1680.8,2544.2 1686.1,2619.6 1691.4,2542.3 1696.7,2714.3 1707.2,2555.9 1717.8,2681.4 1723.0,2515.2 1728.3,2505.6 1738.9,2575.1 1744.1,2465.0 1749.4,2644.8 1754.7,2652.4 1760.0,2710.4 1765.2,2677.5 1770.5,2801.3 1781.1,2596.4 1786.4,2723.9 1796.9,2637.0 1802.2,2704.6 1807.5,2598.4 1818.0,2675.6 1823.3,2620.8 1828.6,2691.1 1839.1,2586.8 1849.7,2673.8 1860.2,2588.6 1865.5,2584.9 1870.8,2694.9 1876.1,2590.6 1881.3,2646.6 1886.6,2557.8 1891.9,2683.4 1897.2,2563.5 1902.4,2745.2 1907.7,2598.4 1913.0,2586.8 1918.3,2490.1 1923.5,2552.0 1928.8,2513.4 1934.1,2640.9 1939.4,2505.6 1944.7,2658.3 1949.9,2534.6 1960.5,2666.0 1965.8,2584.9 1976.3,2745.2 1981.6,2490.1 1992.1,2521.0 1997.4,2638.9 2002.7,2594.5 2013.2,2569.4 2018.5,2627.4 2023.8,2594.5 2034.4,2615.8 2039.6,2521.0 2044.9,2581.0 2055.5,2594.5 2060.7,2592.5 2071.3,2671.8 2076.6,2662.1 2081.8,2673.8 2092.4,2843.8 2103.0,2698.8 2108.2,2752.9 2118.8,2747.1 2129.3,2596.4 2134.6,2598.4 2145.2,2669.9 2150.4,2667.9 2161.0,2584.9 2166.3,2766.4 2176.8,2590.6 2182.1,2615.8 2192.7,2656.3 2203.2,2598.4 2208.5,2611.9 2213.8,2669.9 2219.0,2613.8 2224.3,2666.0 2229.6,2646.6 2234.9,2658.3 2240.1,2650.5 2250.7,2658.3 2256.0,2602.2 2266.5,2700.8 2277.1,2544.2 2282.4,2509.5 2287.6,2509.5 2292.9,2613.8 2303.5,2723.9 2314.0,2611.9 2324.6,2691.1 2329.8,2787.7 2335.1,2644.8 2340.4,2708.5 2351.0,2708.5 2361.5,2611.9 2366.8,2691.1 2372.1,2706.5 2382.6,2689.1 2387.9,2693.0 2393.2,2667.9 2409.0,2666.0 2414.3,2776.1 2419.5,2704.6 2424.8,2756.8 2430.1,2642.8" fill="none" stroke="#3186be" stroke-width="6.7" stroke-linejoin="round" stroke-linecap="round"/>
<text x="388.05" y="2978.6" text-anchor="middle" font-family="Liberation Serif" font-size="46.5" fill="#4a4b4d">50</text>
<text x="651.88" y="2978.6" text-anchor="middle" font-family="Liberation Serif" font-size="46.5" fill="#4a4b4d">100</text>
<text x="915.71" y="2978.6" text-anchor="middle" font-family="Liberation Serif" font-size="46.5" fill="#4a4b4d">150</text>
<text x="1179.54" y="2978.6" text-anchor="middle" font-family="Liberation Serif" font-size="46.5" fill="#4a4b4d">200</text>
<text x="1443.37" y="2978.6" text-anchor="middle" font-family="Liberation Serif" font-size="46.5" fill="#4a4b4d">250</text>
<text x="1707.21" y="2978.6" text-anchor="middle" font-family="Liberation Serif" font-size="46.5" fill="#4a4b4d">300</text>
<text x="1971.04" y="2978.6" text-anchor="middle" font-family="Liberation Serif" font-size="46.5" fill="#4a4b4d">350</text>
<text x="2234.87" y="2978.6" text-anchor="middle" font-family="Liberation Serif" font-size="46.5" fill="#4a4b4d">400</text>
<text x="112.6" y="2933.9" text-anchor="end" font-family="Liberation Serif" font-size="46.5" fill="#4a4b4d">0</text>
<text x="112.6" y="2825.8" text-anchor="end" font-family="Liberation Serif" font-size="46.5" fill="#4a4b4d">1</text>
<text x="112.6" y="2717.6" text-anchor="end" font-family="Liberation Serif" font-size="46.5" fill="#4a4b4d">2</text>
<text x="112.6" y="2609.4" text-anchor="end" font-family="Liberation Serif" font-size="46.5" fill="#4a4b4d">3</text>
<text x="112.6" y="2501.3" text-anchor="end" font-family="Liberation Serif" font-size="46.5" fill="#4a4b4d">4</text>
<text x="112.6" y="2393.2" text-anchor="end" font-family="Liberation Serif" font-size="46.5" fill="#4a4b4d">5</text>
<text x="112.6" y="2285.0" text-anchor="end" font-family="Liberation Serif" font-size="46.5" fill="#4a4b4d">6</text>
<text x="1280.0" y="3051.5" text-anchor="middle" font-family="Liberation Serif" font-weight="bold" font-size="63.5" fill="#4a4b4d">Frame</text>
<text transform="translate(62.5,2591.5) rotate(-90)" x="0" y="0" text-anchor="middle" font-family="Liberation Serif" font-weight="bold" font-size="63.5" fill="#4a4b4d">Center Location Error</text>
<text x="1280.0" y="2242.5" text-anchor="middle" font-family="Liberation Serif" font-weight="bold" font-size="63.5" fill="#1e1c1d" textLength="994.7" lengthAdjust="spacing">air conditioning box1-UAVTrack112</text>
<rect x="162.6" y="2772" width="261.79999999999995" height="113" fill="#fff" stroke="#3d3e40" stroke-width="1.8"/>
<line x1="173.79999999999998" y1="2802.1" x2="294.0" y2="2802.1" stroke="#a9d6a0" stroke-width="6.7"/>
<line x1="173.79999999999998" y1="2854.7" x2="294.0" y2="2854.7" stroke="#3186be" stroke-width="6.7"/>
<text x="302.3" y="2817.6" font-family="Liberation Serif" font-size="43.5" fill="#1e1c1d">SESF</text>
<text x="303.0" y="2870.2" font-family="Liberation Serif" font-size="43.5" fill="#1e1c1d">FACF</text>
<text y="3166.8" font-family="Liberation Serif" font-size="88" fill="#1e1c1d" stroke="#fff" stroke-width="0.5"><tspan x="1182.8">(</tspan><tspan x="1209.9" font-weight="bold" font-size="83" stroke="none">c</tspan><tspan x="1245.9">)</tspan></text></g>
</svg></body></html>
